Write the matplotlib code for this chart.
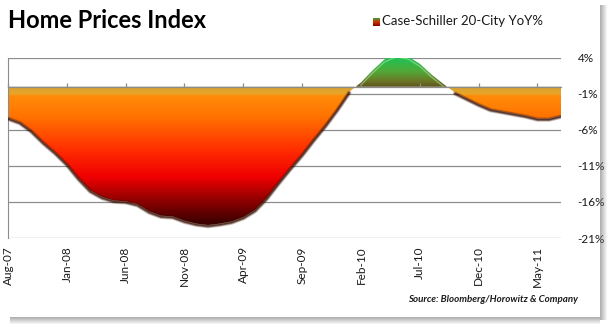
import numpy as np
import matplotlib.pyplot as plt
from matplotlib.colors import LinearSegmentedColormap
from matplotlib.patches import Rectangle

# Case-Shiller 20-City YoY %, monthly Aug-07 .. Jul-11
months = ["Aug-07", "Sep-07", "Oct-07", "Nov-07", "Dec-07",
          "Jan-08", "Feb-08", "Mar-08", "Apr-08", "May-08", "Jun-08", "Jul-08",
          "Aug-08", "Sep-08", "Oct-08", "Nov-08", "Dec-08",
          "Jan-09", "Feb-09", "Mar-09", "Apr-09", "May-09", "Jun-09", "Jul-09",
          "Aug-09", "Sep-09", "Oct-09", "Nov-09", "Dec-09",
          "Jan-10", "Feb-10", "Mar-10", "Apr-10", "May-10", "Jun-10", "Jul-10",
          "Aug-10", "Sep-10", "Oct-10", "Nov-10", "Dec-10",
          "Jan-11", "Feb-11", "Mar-11", "Apr-11", "May-11", "Jun-11", "Jul-11"]
yoy = [-4.3, -4.9, -6.1, -7.7, -9.1,
       -10.7, -12.7, -14.4, -15.3, -15.8, -15.9, -16.3,
       -17.3, -17.9, -18.0, -18.6, -19.0,
       -19.2, -19.0, -18.7, -18.1, -17.1, -15.4, -13.3,
       -11.3, -9.4, -7.3, -5.3, -3.1,
       -0.7, 0.6, 2.3, 3.8, 4.5, 4.2, 3.2,
       1.7, 0.4, -0.8, -1.6, -2.4,
       -3.1, -3.4, -3.7, -4.0, -4.4, -4.4, -4.0]
tick_every = 5
y_ticks = [4, -1, -6, -11, -16, -21]

x = np.arange(len(months))
y = np.array(yoy)
ymin, ymax = -21, 4

# colour by value: green above zero, gold/orange/red/black below
vlo, vhi = -21.0, 5.0
stops = [(-21.0, "#1e0000"), (-19.0, "#3a0000"), (-16.0, "#8a0000"),
         (-12.5, "#f00000"), (-9.0, "#ff2a00"), (-4.0, "#ff7400"),
         (-1.2, "#ff8c0a"), (-0.9, "#e8a62a"), (-0.01, "#d9a030"),
         (0.01, "#5c5220"), (0.8, "#6d7424"), (2.2, "#52a838"), (4.5, "#12c85a"),
         (5.0, "#12c85a")]
cmap = LinearSegmentedColormap.from_list(
    "hp", [((v - vlo) / (vhi - vlo), c) for v, c in stops])

fig = plt.figure(figsize=(6.12, 3.28), dpi=100)
fig.patch.set_facecolor("white")

# drop shadow of the chart frame
for i in range(7):
    a = 0.55 * (1 - i / 7)
    fig.patches.append(Rectangle((1 - (12 - i) / 612, 1 - 320 / 328), 1 / 612, 315 / 328,
                                 transform=fig.transFigure, color="#707070", alpha=a, lw=0))
    fig.patches.append(Rectangle((10 / 612, (10 - i) / 328), 590 / 612, 1 / 328,
                                 transform=fig.transFigure, color="#707070", alpha=a, lw=0))

ax = fig.add_axes([8 / 612, 1 - 238 / 328, 553 / 612, 180 / 328])
ax.set_xlim(0, len(months) - 1)
ax.set_ylim(ymin, ymax)

# gridlines
ax.set_yticks(y_ticks)
ax.yaxis.grid(True, color="#8c8c8c", lw=0.9)
ax.set_axisbelow(True)
ax.yaxis.tick_right()
ax.tick_params(axis="y", length=0, pad=12, labelsize=8.5, colors="#1a1a1a")
ax.set_yticklabels([f"{t}%" for t in y_ticks], family="Lato")

ax.set_xticks(x[::tick_every])
ax.set_xticklabels(months[::tick_every], rotation=90, family="Lato", fontsize=8.5)
ax.tick_params(axis="x", length=0, pad=6, colors="#1a1a1a")

for s in ["top", "right", "bottom"]:
    ax.spines[s].set_visible(False)
ax.spines["left"].set_color("#8c8c8c")

# gradient area clipped to the fill polygon
poly = ax.fill_between(x, y, 0, color="none", lw=0, interpolate=True)
grad = np.linspace(vhi, vlo, 500).reshape(-1, 1)
im = ax.imshow(grad, cmap=cmap, vmin=vlo, vmax=vhi, aspect="auto",
               extent=[x[0], x[-1], vlo, vhi], interpolation="bilinear", zorder=2)
path = poly.get_paths()[0]
im.set_clip_path(path, transform=ax.transData)

# dark shadowed edge under the negative part, light edge on the peak
neg = np.where(y <= 0.3, y, np.nan)
for lw, a in [(3.2, 0.25), (2.0, 0.45), (1.0, 0.6)]:
    ax.plot(x, neg - 0.15, color="#3a0e00", lw=lw, alpha=a, zorder=3,
            solid_capstyle="round")
pos = np.where(y >= -0.3, y, np.nan)
ax.plot(x, pos - 0.35, color="#9be39a", lw=1.0, alpha=0.6, zorder=3)

# category axis crossing at zero with its tick marks
sec = ax.secondary_xaxis((0 - ymin) / (ymax - ymin))
sec.set_xticks(x[::tick_every])
sec.set_xticklabels([])
sec.tick_params(axis="x", direction="out", length=3, color="#8c8c8c", width=0.9)
for sp in sec.spines.values():
    sp.set_color("#8c8c8c")
    sp.set_linewidth(0.9)
sec.set_zorder(4)

# title, legend, source
fig.text(8 / 612, 1 - 20 / 328, "Home Prices Index", fontsize=17, fontweight="bold",
         family="Lato", va="center", ha="left", color="black")
lg = fig.add_axes([373 / 612, 1 - 26 / 328, 7 / 612, 8 / 328])
lg.imshow(np.linspace(0, 1, 20).reshape(-1, 1),
          cmap=LinearSegmentedColormap.from_list("lg", ["#4a9a30", "#d03000", "#8a0000"]),
          aspect="auto")
lg.axis("off")
fig.text(382 / 612, 1 - 21 / 328, "Case-Schiller 20-City YoY%", fontsize=9.5,
         family="Lato", va="center", ha="left", color="#1a1a1a")
fig.text(578 / 612, 1 - 300 / 328, "Source: Bloomberg/Horowitz & Company", fontsize=7,
         family="Lato", style="italic", fontweight="bold", va="center", ha="right",
         color="#1a1a1a")

fig.savefig("out.png", dpi=100)
